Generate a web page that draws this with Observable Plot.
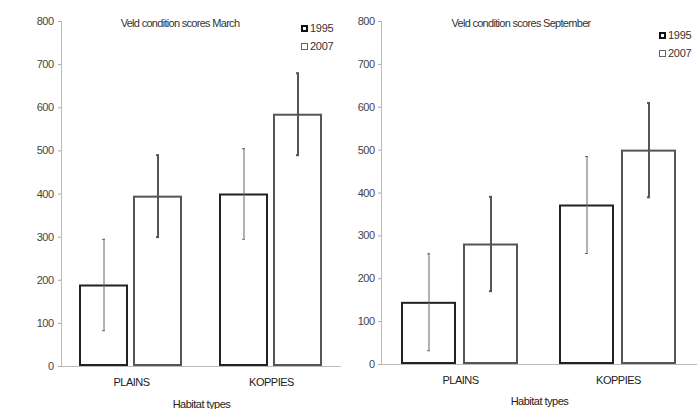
<!DOCTYPE html>
<html><head><meta charset="utf-8">
<script src="https://cdn.jsdelivr.net/npm/d3@7"></script>
<script src="https://cdn.jsdelivr.net/npm/@observablehq/plot@0.6"></script>
<style>
  html,body{margin:0;padding:0;background:#fff;}
  #wrap{display:flex;width:700px;height:409px;overflow:hidden;}
  .panel{position:relative;width:350px;height:409px;}
  .panel svg{position:absolute;left:0;top:0;}
  .ttl{position:absolute;font:11px "Liberation Sans",Arial,sans-serif;letter-spacing:-0.7px;color:#333;white-space:nowrap;transform:translateX(-50%);}
  .leg{position:absolute;font:11px "Liberation Sans",Arial,sans-serif;letter-spacing:-0.3px;color:#333;display:flex;align-items:center;white-space:nowrap;}
  .sw{display:inline-block;box-sizing:border-box;width:7px;height:7px;background:#fff;margin-right:2px;}
</style>
</head><body>
<div id="wrap"></div>
<script>
const habitats = ["PLAINS", "KOPPIES"];
const years = ["1995", "2007"];
const yTicks = [0, 100, 200, 300, 400, 500, 600, 700, 800];

const marchMean1995 = [189, 400];
const marchMean2007 = [395, 585];
const marchErr1995 = [106, 105];
const marchErr2007 = [95, 95];

const septMean1995 = [145, 372];
const septMean2007 = [281, 500];
const septErr1995 = [113, 113];
const septErr2007 = [110, 110];

const titles = ["Veld condition scores March", "Veld condition scores September"];
const xLabel = "Habitat types";

function rows(m95, m07, e95, e07) {
  const out = [];
  habitats.forEach((h, i) => {
    out.push({habitat: h, year: years[0], mean: m95[i], err: e95[i]});
    out.push({habitat: h, year: years[1], mean: m07[i], err: e07[i]});
  });
  return out;
}

const FONT = '"Liberation Sans",Arial,sans-serif';

function panel(data, cfg) {
  const d95 = data.filter(d => d.year === years[0]);
  const d07 = data.filter(d => d.year === years[1]);
  const lo = d => d.mean - d.err, hi = d => d.mean + d.err;
  return Plot.plot({
    width: 350, height: 409,
    marginLeft: cfg.ml, marginRight: cfg.mr, marginTop: 21, marginBottom: cfg.mb,
    style: {fontFamily: FONT, fontSize: "11px", background: "white", letterSpacing: "-0.5px"},
    fx: {domain: habitats, padding: 0},
    x: {domain: years, paddingInner: cfg.pi, paddingOuter: cfg.po, axis: null},
    y: {domain: [0, 800], axis: null},
    marks: [
      Plot.ruleY([0], {stroke: "#bbb"}),
      Plot.frame({anchor: "left", stroke: "#bbb", facet: "super"}),
      Plot.axisY({ticks: yTicks, tickSize: 3, tickPadding: cfg.tp, stroke: "#aaa", fill: "#444", label: null, fontSize: 11}),
      Plot.axisFx({anchor: "bottom", tickSize: 0, tickPadding: 12, fill: "#222", fontSize: 11, label: xLabel, labelAnchor: "center", labelOffset: cfg.lo}),
      Plot.barY(d95, {fx: "habitat", x: "year", y: "mean", fill: "white", stroke: "#222", strokeWidth: 2, inset: 1}),
      Plot.barY(d07, {fx: "habitat", x: "year", y: "mean", fill: "white", stroke: "#555", strokeWidth: 2, inset: 1}),
      Plot.ruleX(d95, {fx: "habitat", x: "year", y1: lo, y2: hi, stroke: "#666", strokeWidth: 1}),
      Plot.tickY(d95, {fx: "habitat", x: "year", y: lo, stroke: "#666", strokeWidth: 1, inset: cfg.ci}),
      Plot.tickY(d95, {fx: "habitat", x: "year", y: hi, stroke: "#666", strokeWidth: 1, inset: cfg.ci}),
      Plot.ruleX(d07, {fx: "habitat", x: "year", y1: lo, y2: hi, stroke: "#555", strokeWidth: 2}),
      Plot.tickY(d07, {fx: "habitat", x: "year", y: lo, stroke: "#555", strokeWidth: 2, inset: cfg.ci}),
      Plot.tickY(d07, {fx: "habitat", x: "year", y: hi, stroke: "#555", strokeWidth: 2, inset: cfg.ci})
    ]
  });
}

function build(data, cfg, title) {
  const p = document.createElement("div");
  p.className = "panel";
  p.appendChild(panel(data, cfg));
  const t = document.createElement("div");
  t.className = "ttl"; t.textContent = title;
  t.style.left = cfg.tx + "px"; t.style.top = "17px";
  p.appendChild(t);
  years.forEach((y, i) => {
    const l = document.createElement("div");
    l.className = "leg";
    l.style.left = cfg.lx + "px"; l.style.top = (cfg.ly + i * 18) + "px";
    const s = document.createElement("span");
    s.className = "sw";
    s.style.border = i === 0 ? "2px solid #111" : "1.5px solid #666";
    l.appendChild(s);
    l.appendChild(document.createTextNode(y));
    p.appendChild(l);
  });
  document.getElementById("wrap").appendChild(p);
}

build(rows(marchMean1995, marchMean2007, marchErr1995, marchErr2007),
  {ml: 61, mr: 9, mb: 43, pi: 0.09, po: 0.32, tp: 5, lo: 41, ci: 23, tx: 180, lx: 301, ly: 22}, titles[0]);
build(rows(septMean1995, septMean2007, septErr1995, septErr2007),
  {ml: 31, mr: 3, mb: 45, pi: 0.105, po: 0.315, tp: 4, lo: 40, ci: 26, tx: 171, lx: 309, ly: 29}, titles[1]);
</script>
</body></html>
